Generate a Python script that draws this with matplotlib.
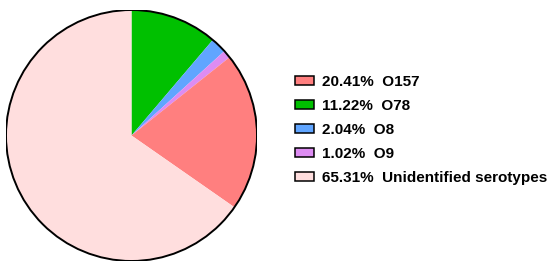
import matplotlib
matplotlib.use("Agg")
import matplotlib.pyplot as plt
from matplotlib.patches import Patch, Circle

# Data
labels = ["O157", "O78", "O8", "O9", "Unidentified serotypes"]
values = [20.41, 11.22, 2.04, 1.02, 65.31]
colors = ["#FF7F7F", "#00C000", "#60A5FF", "#DD8CF2", "#FFDEDE"]
# drawing order clockwise from top
pie_order = [1, 2, 3, 0, 4]

W, H = 550, 267
fig = plt.figure(figsize=(W / 100, H / 100), dpi=100)

cx, cy, r = 131.5, 135.5, 125.5
ax = fig.add_axes([(cx - r) / W, (H - cy - r) / H, 2 * r / W, 2 * r / H])
ax.pie([values[i] for i in pie_order], colors=[colors[i] for i in pie_order],
       startangle=90, counterclock=False, radius=1,
       wedgeprops=dict(linewidth=0))
ax.add_patch(Circle((0, 0), 1, fill=False, edgecolor="black", linewidth=1.4))
ax.set_xlim(-1, 1)
ax.set_ylim(-1, 1)
ax.set_aspect("auto")
ax.axis("off")

handles = [Patch(facecolor=c, edgecolor="black", linewidth=1.1) for c in colors]
texts = [f"{v:.2f}%  {l}" for v, l in zip(values, labels)]
fig.legend(handles, texts, loc="center left", bbox_to_anchor=(295 / W, 1 - 130 / H),
           frameon=False, prop={"family": "Liberation Sans", "weight": "bold", "size": 11},
           handlelength=1.24, handleheight=0.52, handletextpad=0.5, labelspacing=0.65,
           borderpad=0, borderaxespad=0)

fig.savefig("out.png", dpi=100)
